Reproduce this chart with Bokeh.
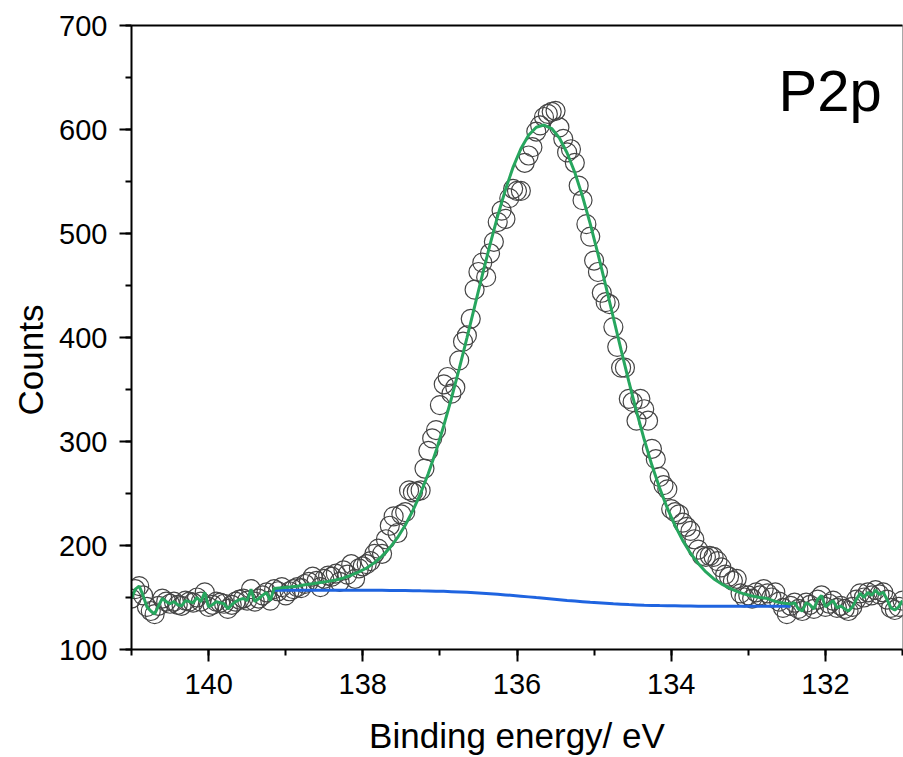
import numpy as np
from bokeh.plotting import figure
from bokeh.models import Range1d, LinearAxis, SingleIntervalTicker, FixedTicker, Label, Title, ColumnDataSource
from bokeh.embed import file_html
from bokeh.resources import INLINE

# ---- data ----
energy_first = 141.0          # eV, first data point
energy_step = 0.05            # eV, spacing of data points (decreasing)
counts = [
    149, 158, 161, 152, 141, 137, 134, 142, 149, 146,
    144, 146, 143, 142, 147, 146, 145, 150, 146, 155,
    141, 143, 146, 145, 144, 139, 143, 146, 148, 149,
    147, 158, 146, 149, 152, 155, 147, 158, 156, 160,
    152, 156, 158, 160, 159, 163, 165, 170, 166, 160,
    168, 171, 170, 173, 165, 176, 172, 182, 168, 178,
    180, 182, 185, 192, 197, 192, 206, 219, 228, 212,
    230, 232, 253, 251, 252, 253, 274, 291, 303, 311,
    335, 355, 362, 346, 352, 378, 396, 402, 418, 446,
    463, 472, 458, 481, 492, 511, 522, 514, 534, 543,
    541, 541, 568, 575, 583, 598, 604, 612, 615, 617,
    618, 602, 591, 578, 581, 568, 546, 532, 509, 497,
    474, 463, 443, 434, 432, 410, 391, 371, 371, 341,
    338, 320, 341, 331, 320, 293, 283, 266, 258, 254,
    235, 232, 230, 222, 218, 214, 206, 196, 190, 189,
    190, 189, 185, 179, 172, 170, 166, 168, 154, 150,
    152, 149, 155, 152, 158, 154, 150, 155, 146, 140,
    134, 142, 145, 139, 137, 145, 143, 139, 148, 152,
    141, 144, 147, 140, 142, 139, 137, 141, 148, 154,
    150, 155, 152, 157, 153, 155, 148, 140, 138, 141,
    147,
]

fit_first = 139.15            # eV, first point of fitted region
fit_step = 0.1                # eV
envelope = [
    158.7, 159.3, 160.0, 160.8, 162.3, 163.2, 164.5, 165.5, 166.9, 168.8,
    171.4, 174.6, 178.4, 183.4, 189.8, 197.7, 207.5, 219.5, 233.7, 250.2,
    269.3, 290.8, 315.2, 341.6, 369.9, 399.5, 429.7, 459.9, 489.2, 517.0,
    542.1, 563.9, 581.5, 594.5, 602.2, 604.3, 600.9, 591.8, 577.4, 558.6,
    535.6, 509.3, 480.5, 450.2, 419.0, 388.1, 357.8, 328.9, 301.9, 277.1,
    255.2, 235.9, 219.1, 204.7, 192.6, 182.6, 174.6, 168.1, 163.1, 159.3,
    155.9, 153.3, 151.4, 150.0, 149.0, 146.2, 144.6, 143.8,
]
background = [
    157.0, 157.0, 157.0, 157.0, 157.0, 157.0, 157.0, 157.0, 157.0, 157.0,
    157.0, 156.9, 156.9, 156.9, 156.9, 156.8, 156.7, 156.7, 156.6, 156.4,
    156.3, 156.1, 155.9, 155.6, 155.3, 155.0, 154.6, 154.1, 153.6, 153.1,
    152.5, 151.9, 151.3, 150.6, 149.9, 149.3, 148.6, 147.9, 147.2, 146.6,
    146.0, 145.4, 144.9, 144.4, 143.9, 143.6, 143.2, 142.9, 142.6, 142.4,
    142.2, 142.1, 142.0, 141.9, 141.8, 141.7, 141.7, 141.6, 141.6, 141.6,
    141.5, 141.5, 141.5, 141.5, 141.5, 141.5, 141.5, 141.5,
]

x_tick_interval = 2
y_tick_interval = 100
x_limits = (141, 131)
y_limits = (100, 700)
x_label = "Binding energy/ eV"
y_label = "Counts"
panel_label = "P2p"

# ---- derived arrays ----
data_x = np.round(energy_first - energy_step * np.arange(len(counts)), 2)
data_y = np.array(counts, dtype=float)
fit_x = np.round(fit_first - fit_step * np.arange(len(envelope)), 2)
fit_y = np.array(envelope)
bg_y = np.array(background)

left_mask = data_x > fit_x[0] + 1e-6
right_mask = data_x < fit_x[-1] - 1e-6
green_x = np.concatenate([data_x[left_mask], fit_x, data_x[right_mask]])
green_y = np.concatenate([data_y[left_mask], fit_y, data_y[right_mask]])

FONT = "Liberation Sans"

p = figure(width=903, height=757,
           x_range=Range1d(*x_limits), y_range=Range1d(*y_limits),
           output_backend="svg", toolbar_location=None,
           min_border_left=131, min_border_right=1,
           min_border_top=25, min_border_bottom=108,
           x_axis_location="below", y_axis_location="left")
p.xgrid.visible = False
p.ygrid.visible = False
p.background_fill_color = "white"
p.border_fill_color = "white"
p.outline_line_color = "#a8a8a8"
p.outline_line_width = 1

# top border as a bare axis line
top_axis = LinearAxis(ticker=FixedTicker(ticks=[]), axis_line_color="black",
                      axis_line_width=2, major_tick_line_color=None,
                      minor_tick_line_color=None, major_label_text_font_size="0px")
p.add_layout(top_axis, "above")

xa = p.below[0]
xa.ticker = SingleIntervalTicker(interval=x_tick_interval, num_minor_ticks=2)
ya = p.left[0]
ya.ticker = SingleIntervalTicker(interval=y_tick_interval, num_minor_ticks=2)
for ax in (xa, ya):
    ax.axis_line_color = "black"
    ax.axis_line_width = 2
    ax.major_tick_line_color = "black"
    ax.major_tick_line_width = 2
    ax.minor_tick_line_color = "black"
    ax.minor_tick_line_width = 2
    ax.major_tick_in = 0
    ax.major_tick_out = 12
    ax.minor_tick_in = 0
    ax.minor_tick_out = 6
    ax.major_label_text_font = FONT
    ax.major_label_text_font_size = "29px"
    ax.major_label_text_color = "black"
    ax.axis_label_text_font = FONT
    ax.axis_label_text_font_size = "35px"
    ax.axis_label_text_font_style = "normal"
    ax.axis_label_text_color = "black"
xa.axis_label = x_label
xa.major_label_standoff = 12
xa.axis_label_standoff = 19
ya.major_label_standoff = 12

# y-axis title, placed below the frame centre like the original
p.add_layout(Title(text=y_label, align="left", offset=234, standoff=14,
                   text_font=FONT, text_font_size="35px",
                   text_font_style="normal", text_color="black"), "left")

src = ColumnDataSource(dict(x=data_x, y=data_y))
p.scatter("x", "y", source=src, marker="circle", size=19,
          fill_color=None, line_color="#454545", line_width=1.2)

p.line(fit_x, bg_y, line_color="#1f64e0", line_width=3)
p.line(green_x, green_y, line_color="#27a65e", line_width=3)

p.add_layout(Label(x=131.27, y=637.5, text=panel_label, text_align="right",
                   text_baseline="alphabetic", text_font=FONT,
                   text_font_size="58px", text_color="black"))

open("out.html", "w").write(file_html(p, INLINE))
